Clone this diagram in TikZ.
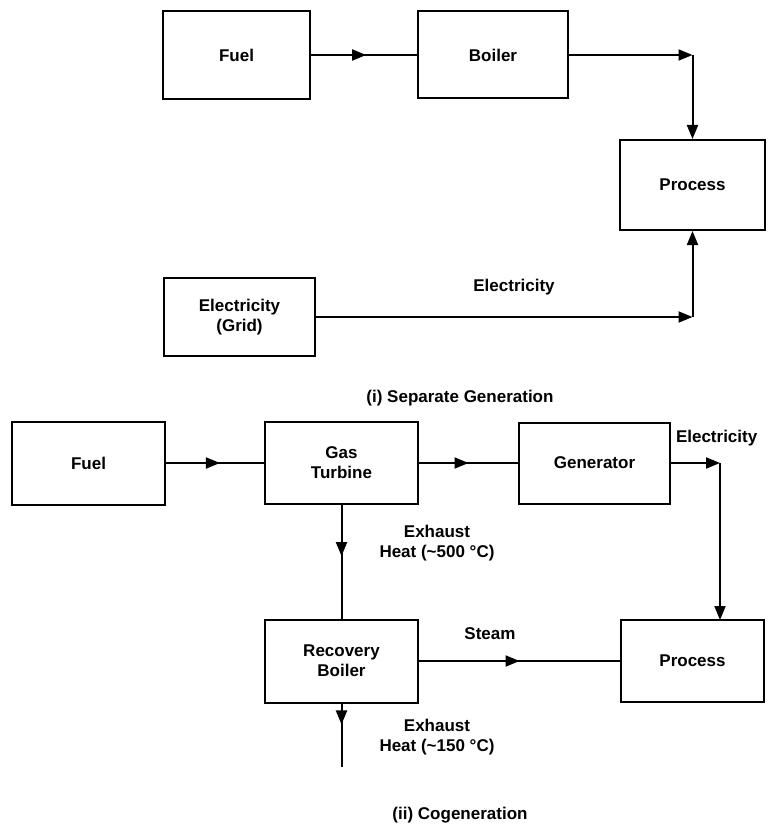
\documentclass[tikz,border=0pt]{standalone}
\usepackage{fontspec}
\setmainfont{Liberation Sans}
\usetikzlibrary{arrows.meta,decorations.markings}
\begin{document}
\begin{tikzpicture}[x=1pt,y=-1pt,
  font=\bfseries\fontsize{17}{20}\selectfont,
  line width=2pt,
  box/.style args={#1x#2}{draw, line width=2pt, minimum width=#1pt, minimum height=#2pt, inner sep=0pt, align=center},
  lbl/.style={inner sep=0pt, align=center},
  tip/.style={-{Triangle[length=14pt,width=11pt]}},
  midarrow/.style={postaction={decorate}, decoration={markings, mark=at position #1 with {\arrow{Triangle[length=14pt,width=11pt]}}}}
]
\useasboundingbox (0,0) rectangle (772,829);

% (i) Separate generation
\node[box=147x88] (fuelA) at (236.5,55) {Fuel};
\node[box=150x87] (boiler) at (493,55) {Boiler};
\node[box=145x90] (procA) at (692.5,185) {Process};
\node[box=151x78] (grid) at (239.5,317) {Electricity\\(Grid)};
\coordinate (cA) at (692.5,55);
\coordinate (cB) at (692.5,317);

\draw[midarrow=0.52] (fuelA.east) -- (boiler.west);
\draw[tip] (boiler.east) -- (cA);
\draw[tip] (cA) -- (procA.north);
\draw[tip] (grid.east) -- (cB);
\draw[tip] (cB) -- (procA.south);
\node[lbl] (elecA) at (514,287) {Electricity};
\node[lbl] (capA) at (460,398) {(i) Separate Generation};

% (ii) Cogeneration
\node[box=153x83] (fuelB) at (88.5,463) {Fuel};
\node[box=153x82] (gt) at (341.5,463) {Gas\\Turbine};
\node[box=151x81] (gen) at (594.5,463) {Generator};
\node[box=153x83] (rb) at (341.5,661) {Recovery\\Boiler};
\node[box=143x82] (procB) at (692.5,661) {Process};
\coordinate (cC) at (720,463);
\coordinate (cD) at (720,620);
\coordinate (ex) at (341.5,767);

\draw[midarrow=0.55] (fuelB.east) -- (gt.west);
\draw[midarrow=0.5] (gt.east) -- (gen.west);
\draw[tip] (gen.east) -- (cC);
\draw[tip] (cC) -- (cD);
\draw[midarrow=0.45] (gt.south) -- (rb.north);
\draw[midarrow=0.5] (rb.east) -- (procB.west);
\draw[midarrow=0.33] (rb.south) -- (ex);

\node[lbl, anchor=west] (elecB) at (675,438) {Electricity};
\node[lbl] (exA) at (437,543) {Exhaust\\Heat (\textasciitilde500 \textdegree C)};
\node[lbl] (steam) at (490,634) {Steam};
\node[lbl] (exB) at (437,737) {Exhaust\\Heat (\textasciitilde150 \textdegree C)};
\node[lbl] (capB) at (460,815) {(ii) Cogeneration};
\end{tikzpicture}
\end{document}
